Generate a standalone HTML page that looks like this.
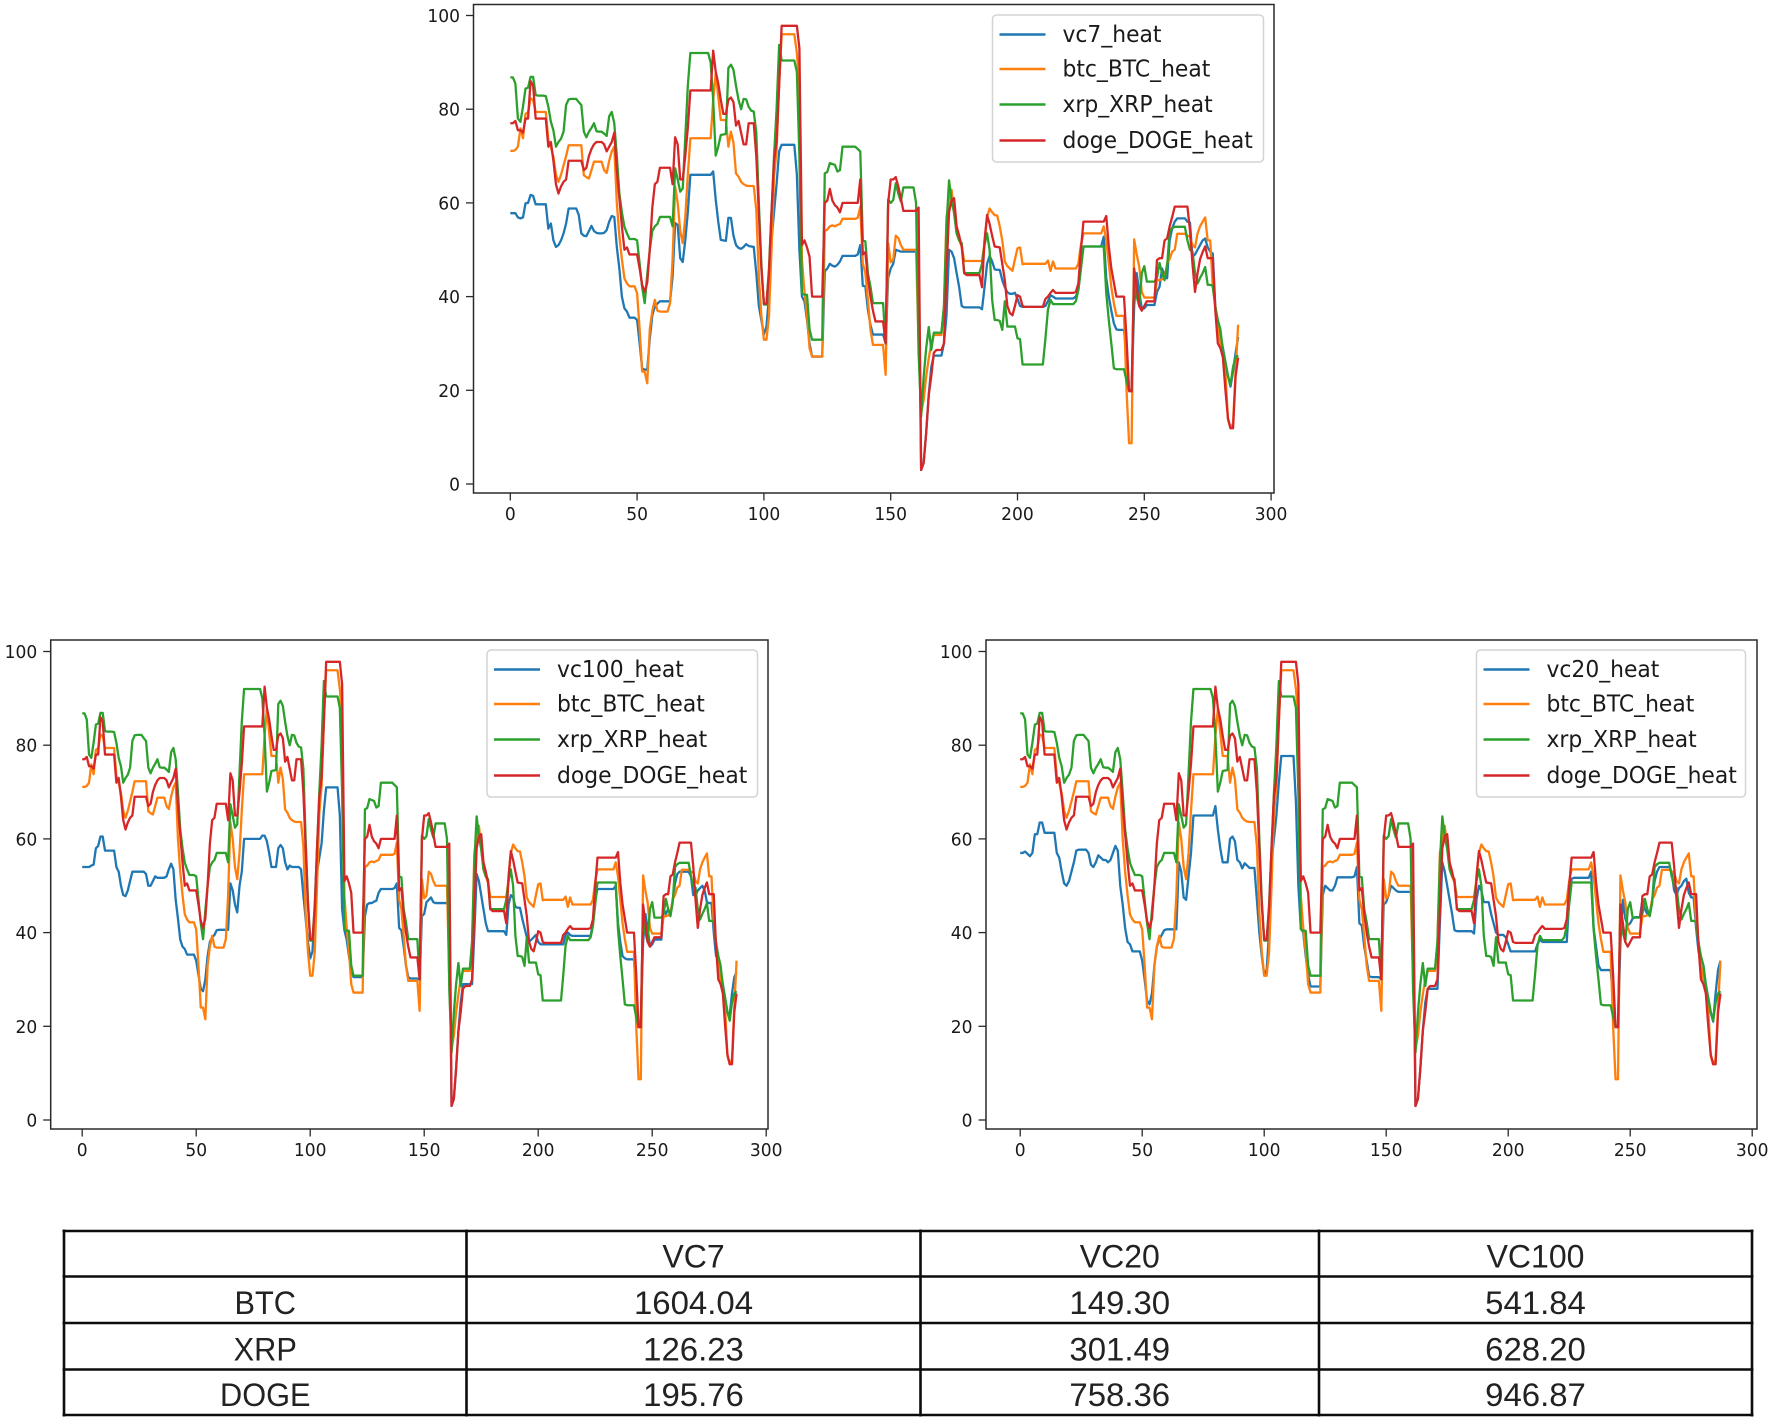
<!DOCTYPE html>
<html lang="en">
<head>
<meta charset="utf-8">
<title>VC heat comparison charts</title>
<style>
  html, body { margin: 0; padding: 0; background: #fff; }
  #stage { display: block; width: 1772px; height: 1420px; }
  text { font-family: "DejaVu Sans", sans-serif; fill: #1a1a1a; }
  .tbl text { font-family: "Liberation Sans", "Noto Sans CJK SC", sans-serif; fill: #222; }
</style>
</head>
<body>
<svg id="stage" xmlns="http://www.w3.org/2000/svg" width="1772" height="1420" viewBox="0 0 1772 1420">
  <rect x="0" y="0" width="1772" height="1420" fill="#ffffff"/>
</svg>
<script>
const xTicks = [0, 50, 100, 150, 200, 250, 300];
const yTicks = [0, 20, 40, 60, 80, 100];

const btc = [
71.1,71.1,71.3,72,75.9,73.8,79,79.4,82.3,82,
79.4,79.4,79.4,79.4,79.4,73.4,72,69.8,66,64.5,
66,68,70,72.3,72.3,72.3,72.3,72.3,72.3,65.9,
65.5,65.2,67,68.8,68.8,68.8,68.8,67,66.4,69,
71,72,60,53,48,43.9,42.8,42.2,42.2,42.2,
40.7,33,24,24,21.5,33,37,39.3,37,36.8,
36.8,36.8,36.8,38.6,48,63.5,60,54,51.4,57,
66,73.8,73.8,73.8,73.8,73.8,73.8,73.8,73.8,73.8,
82,87.7,82.7,77.7,77.7,77.7,72,75.2,72.8,66.3,
65.6,64.5,64,63.7,63.6,63.6,63.6,58.5,44.3,36,
30.8,30.8,35.8,50,65.6,71.3,85,96,96,96,
96,96,96,92,85,47.9,41,36,29,27.2,
27.2,27.2,27.2,27.2,54,54.3,55,55.2,55,55.3,
55.5,56.6,56.6,56.6,56.6,56.6,56.6,56.8,59.2,47.1,
45,39.3,33,29.7,29.7,29.7,29.7,29.7,23.3,51.4,
47.3,47.9,53,52.5,51,50,50,50,50,50,
50,30,15.1,18,23,26.8,30,31.8,31.8,31.8,
31.8,38,57,60,62.8,58,53.5,52,50.7,47.6,
47.6,47.6,47.6,47.6,47.6,47.6,47.6,51.4,57,58.8,
58,57.4,57.3,55,52,47.5,46.5,46,45.5,48,
50.3,50.5,46.9,47,47,47,47,47,47,47,
47,47,47.7,45.5,47.5,46,46,46,46,46,
46,46,46,46,47,51,53.5,53.5,53.5,53.5,
53.5,53.5,53.5,53.5,55,52,47,42,38.6,35.9,
35.9,35.9,35.9,20,8.7,8.7,52.2,49,46.4,41,
39.8,39.8,39.8,39.8,39.8,43.5,43.5,43.7,43.9,47.1,
48,49.6,50,53.4,53.4,53.4,53.4,53,52.8,51,
50.5,53.5,55,56,56.9,52,52,42,38,33,
30,28,23.6,13.7,11.9,13,24,34
];

const xrp = [
86.8,86.8,85.5,78,77.3,80.5,84.4,84.6,86.9,86.9,
83,82.9,82.9,82.9,82.8,80.5,77.3,75.5,72,73,
73.7,75.2,80.9,82.1,82.2,82.2,82.2,81.5,80.9,75.2,
74,75.2,76,77,75.3,75.2,75.2,74.8,74.3,78.5,
79.4,77,70,62,58,54.9,53.5,52.3,52.3,52.3,
52,47,42,38.6,44.7,50,54,55,55.5,57,
57,57,57,57,55,67.4,65,62.4,63.1,74,
85,92,92,92,92,92,92,92,92,90,
82,70.1,72,74.5,74.6,74.7,88.8,89.5,88.4,85,
82,80,82.2,82.1,80.5,79.7,79.5,75,60,47,
38.3,38.3,46,58,70,80,93.7,90.4,90.4,90.4,
90.4,90.4,90.4,88,70,40.7,40.4,40.4,33,30.8,
30.8,30.8,30.8,30.8,66.3,66.6,68.5,68.3,68.1,66.7,
67,72,72,72,72,72,72,71.5,71,52,
51.8,45,42.2,38.6,38.6,38.6,38.6,38.6,30,60.7,
60,60.6,64.2,62,60.3,63.3,63.3,63.3,63.3,63.3,
60,28,14.4,22.9,29,33.5,28.6,32.3,32.3,32.3,
32.3,38,55,64.8,60.6,57.8,53.5,52,51.4,45,
45,45,45,45,45,45,47,51,53.5,50,
39.3,35,35,34.8,32.9,39,33.6,33.6,33.6,33.6,
31.1,30.9,25.5,25.5,25.5,25.5,25.5,25.5,25.5,25.5,
25.5,31,37.2,39.3,38.4,38.4,38.4,38.4,38.4,38.4,
38.4,38.4,38.4,39,41.4,46,50.7,50.7,50.7,50.7,
50.7,50.7,50.7,50.7,50.7,40.7,35,30,24.7,24.5,
24.5,24.5,24.5,22,20,20,45,40,38,45,
46.5,43.2,43.2,43.2,43.2,44,47.2,45,43.5,46.4,
54,54.6,54.9,54.9,54.9,54.9,54.9,52,50,49.6,
45,42.8,44,45,46.3,42.5,42.5,42.3,37.9,35,
33,28.5,26,23,21.2,25,27,27.5
];

const doge = [
77,77,77.5,75.5,75.5,75,78,78,86,85,
78,78,78,78,78,72,73,69,64,62,
63.5,64.5,65,69,69,69,69,69,69,67,
67.5,70,71.5,72.5,73,73,73,72.5,71,72,
73,75,67,61,55,50,50.5,49,49,49,
49,46,42.5,41,43,50,59,64,64.5,67.5,
67.5,67.5,67.5,67.5,64,74,72.5,65,65,70,
76,84,84,84,84,84,84,84,84,84,
92.5,88,85.5,82,79,79,82,82.5,81.5,76.5,
77.5,75,72.5,72.5,77,77,77,70,58,46,
38.5,38.5,45,58,69,73,85,97.8,97.8,97.8,
97.8,97.8,97.8,97.8,93,51,52,50.5,48.5,40,
40,40,40,40,60,60.5,63,60.5,59.5,59,
58,60,60,60,60,60,60,60,65,49,
49.5,44,40,37,34.7,34.7,34.7,34.7,30,60,
65,65,65.5,63.5,61,58.3,58.3,58.3,58.3,58.3,
58.3,59,3,4.5,11,19,23,28,28.6,28.6,
28.6,30,45,58,60.5,61,55,53,50.7,45,
44.6,44.6,44.6,44.6,44.6,44.6,42,52,57.4,55.5,
53,50.7,50.6,50.5,47,43.5,38,36.5,36,38,
40.3,40,38,37.8,37.8,37.8,37.8,37.8,37.8,37.8,
37.8,39.5,40,40.8,41.4,40.8,40.8,40.8,40.8,40.8,
40.8,40.8,40.8,41,42.8,50,56,56,56,56,
56,56,56,56,56,57.2,50.7,46,43,40,
40,40,40,31,19.8,19.8,46,42,38,37,
38,39,39,39,39,47.8,48.2,48.2,52,52.4,
55,57,59.2,59.2,59.2,59.2,59.2,59.2,54.2,47,
41,45,48,49.5,50.7,48.2,48.2,48.2,37,30,
29,27,20,14,11.9,11.9,23,27
];

const vc7 = [
57.8,57.8,57.8,56.9,56.7,56.9,59.9,60,61.7,61.5,
59.7,59.7,59.7,59.7,59.7,54.5,55.6,52,50.6,51,
52,53.5,55.6,58.8,58.8,58.8,58.8,57.4,53.5,53,
52.9,54,55.1,54,53.6,53.5,53.5,53.6,54.2,56,
57.2,57,50.6,46,40,37.5,36.8,35.5,35.5,35.5,
35,30,24.7,24.4,24.4,31,36,37.9,38.5,39,
39,39,39,39,44.3,55.7,55.3,48.2,47.4,52,
58,66,66,66,66,66,66,66,66,66,
66.7,60.7,56,52.1,52,51.9,56.8,56.8,53,51,
50.4,50.2,50.6,51.2,50.8,50.7,50.6,45,38,35,
31.9,33.6,40,52,58,64,71,72.4,72.4,72.4,
72.4,72.4,72.4,66,50,40,39,35,30,27.2,
27.2,27.2,27.2,27.2,45.4,46,47,46.6,46.4,46.8,
47.5,48.7,48.7,48.7,48.7,48.7,48.7,49,51,42.3,
42.2,37.2,34,31.9,31.9,31.9,31.9,31.9,30,44,
46,47,50,49.8,49.6,49.6,49.6,49.6,49.6,49.6,
49.6,48,3,4.5,11,19,25,27.4,27.4,27.4,
27.4,30,36,50,49.6,48.2,45,42,38,37.7,
37.7,37.7,37.7,37.7,37.7,37.7,37.3,42,47,48.7,
47.5,45.8,45.7,45.7,43.5,42,40.9,40.6,40.6,40.8,
39.5,38,37.8,37.8,37.8,37.8,37.8,37.8,37.8,37.8,
37.8,38,39,40.3,40,39.6,39.6,39.6,39.6,39.6,
39.6,39.6,39.6,40,41.4,46,50.7,50.7,50.7,50.7,
50.7,50.7,50.7,50.7,52.8,44,40,37,34.3,33,
32.9,32.9,32.9,27,20,20,38,45,41,37.5,
37.5,38.2,38.2,38.2,38.2,41,42.1,46,44.5,43.9,
52,54.6,56,56.7,56.7,56.7,56.7,56,55.8,48.5,
49,50,51,52,52.4,50.5,49.6,49.2,37.9,33.6,
32,29,26,23,20.8,24,28,31.4
];

const vc100 = [
54,54,54,54,54.3,54.5,58,58.5,60.5,60.5,
57.5,57.5,57.5,57.5,57.5,54,53,50,48,47.8,
49,51,53,53,53,53,53,53,52.5,50,
50,51,52,51.7,51.7,51.7,51.7,52,53.5,54.7,
53.5,47,43,38.5,37,36.5,35.3,35.3,35.3,35.3,
34,31,28,27.5,30,35,38,39,39.5,40.5,
40.6,40.6,40.6,40.6,40.6,50.5,49,46,44.3,50,
53,60,60,60,60,60,60,60,60,60.7,
60.7,59.5,57,54,54,54,58,58.7,58,55,
53.5,54.3,54,54,54,54,53.5,48,43,38,
34.5,36,45,53,56,59,66,71,71,71,
71,71,71,65,45,40.5,38.5,35,32,30.5,
30.5,30.5,30.5,30.5,43.5,46,46.3,46.3,46.6,46.8,
48.5,49.3,49.3,49.3,49.3,49.3,49.3,49.5,50.5,41,
40.5,37,33,30.5,30.2,30.2,30.2,30.2,30,43.5,
44,46.5,47,47.5,46.5,46.3,46.3,46.3,46.3,46.3,
46.3,45,3,4.5,11,19,25,29,29,29,
29,29,40,52.5,51,48,45,42,40.3,40.3,
40.3,40.3,40.3,40.3,40.3,40.3,39.5,46,48,47.5,
45.5,45.3,45.3,43,41,39,38,38.5,39,39.5,
38,37.5,37.5,37.5,37.5,37.5,37.5,37.5,37.5,37.5,
37.5,37.5,39.5,40,39.5,39.3,39.3,39.3,39.3,39.3,
39.3,39.3,39.3,39.3,42,47,49.3,49.3,49.3,49.3,
49.3,49.3,49.3,49.3,50,42,38,35,34.5,34.3,
34.3,34.3,34.3,27,20,20,38,44,41,37,
37.5,38.5,38.5,38.5,38.5,45,44,45,44,47,
50.5,52.5,53,53,53,53,53,52,48,48,
49,49.5,50,49,46.5,46.3,46.3,40,35,34.5,
32,29,26,23,22.5,27,30.5,31.5
];

const vc20 = [
57,57,57.3,56.8,56.3,57,61,61,63.5,63.5,
61.3,61.3,61.3,61.3,61.3,57,56,53,50.5,50,
51,53,55,57.5,57.7,57.7,57.7,57.7,57,54.5,
54,55,56.5,56,55.5,55.5,55,55.5,57,58.5,
57.5,50,46,41,38,37.5,36,36,36,36,
34,30,25.5,24.7,27,33,37,38.5,39.5,40.5,
40.7,40.7,40.7,40.7,40.7,55,53,47.5,47,52,
57,65,65,65,65,65,65,65,65,65,
67,62,58,55,55,55,60,60.5,59.5,55.5,
55,53.7,54.8,54.3,53.8,53.8,53.8,47,40,35,
31,32,40,55,60,65,72,77.7,77.7,77.7,
77.7,77.7,77.7,68,50,41,40,35,31,28.5,
28.5,28.5,28.5,28.5,48,50,49.5,49,49,50,
51.8,51.8,51.8,51.8,51.8,51.8,51.8,52,54,42,
41.5,37,34,30.7,30.5,30.5,30.5,30.5,30,46,
46.5,48,50,49.5,49,48.7,48.7,48.7,48.7,48.7,
48.7,47,3,4.5,11,19,25,28,28,28,
28,28,42,55,53,50,47,44,40.5,40.3,
40.3,40.3,40.3,40.3,40.3,40.3,39.8,47,50,49,
46.5,46.5,46.5,44,42,40,39.5,39.5,39.5,39,
37.5,36,36,36,36,36,36,36,36,36,
36,36,37.5,38.5,38,38,38,38,38,38,
38,38,38,38,38,47,51.5,51.7,51.7,51.7,
51.7,51.7,51.7,51.7,53,41,37,33,32,32,
32,32,32,26,20,20,38,47,43,41.5,
42,43,43.3,43.3,43.3,47,45,44,44,47,
51,53,54,54,54,54,54,53,49,48,
49.5,50,51,51.5,48.5,47.5,47.5,41,36,34,
33,29,26,23,21,27,32,34
];

const tableColumns = ["", "VC7", "VC20", "VC100"];
const tableRows = ["BTC", "XRP", "DOGE"];
const tableValues = [
  ["1604.04", "149.30", "541.84"],
  ["126.23", "301.49", "628.20"],
  ["195.76", "758.36", "946.87"]
];

const SVG_NS = "http://www.w3.org/2000/svg";
const stage = document.getElementById("stage");

function make(tag, parent, attrs, text) {
  const el = document.createElementNS(SVG_NS, tag);
  for (const k in attrs) el.setAttribute(k, attrs[k]);
  if (text !== undefined) el.textContent = text;
  parent.appendChild(el);
  return el;
}

const AXIS = "#2a2a2a";
const COLORS = { vc: "#1f77b4", btc: "#ff7f0e", xrp: "#2ca02c", doge: "#d62728" };

function drawChart(cfg) {
  const xPos = v => cfg.x0 + v * cfg.kx;
  const yPos = v => cfg.y0 - v * cfg.ky;

  const g = make("g", stage, {});
  
  

  const series = [
    { label: cfg.vcLabel, values: cfg.vcValues, color: COLORS.vc },
    { label: "btc_BTC_heat", values: btc, color: COLORS.btc },
    { label: "xrp_XRP_heat", values: xrp, color: COLORS.xrp },
    { label: "doge_DOGE_heat", values: doge, color: COLORS.doge }
  ];

  series.forEach(s => {
    const d = s.values.map((v, i) => (i ? "L" : "M") + xPos(i).toFixed(2) + " " + yPos(v).toFixed(2)).join("");
    const line = make("path", g, { d: d, fill: "none", stroke: s.color, "stroke-width": 2.3, "stroke-linejoin": "round", "stroke-linecap": "butt" });
    
    
  });

  const frame = make("rect", g, { x: cfg.left, y: cfg.top, width: cfg.right - cfg.left, height: cfg.bottom - cfg.top, fill: "none", stroke: AXIS, "stroke-width": 1.5 });
  
  

  xTicks.forEach(t => {
    const px = xPos(t);
    const mark = make("line", g, { x1: px, x2: px, y1: cfg.bottom, y2: cfg.bottom + 7.5, stroke: AXIS, "stroke-width": 1.3 });
    
    
    const lab = make("text", g, { x: 0, y: 0, "text-anchor": "middle", "font-size": 18, transform: "translate(" + px + "," + (cfg.bottom + 27) + ") scale(0.95,1)" }, String(t));
    
    
  });

  yTicks.forEach(t => {
    const py = yPos(t);
    const mark = make("line", g, { x1: cfg.left - 7.5, x2: cfg.left, y1: py, y2: py, stroke: AXIS, "stroke-width": 1.3 });
    
    
    const lab = make("text", g, { x: 0, y: 0, "text-anchor": "end", "font-size": 18, transform: "translate(" + (cfg.left - 13.5) + "," + (py + 6.5) + ") scale(0.95,1)" }, String(t));
    
    
  });

  const legend = make("g", g, {});
  
  
  const box = make("rect", legend, { x: cfg.legX, y: cfg.legY, width: cfg.legW, height: 147, rx: 4, ry: 4, fill: "#ffffff", "fill-opacity": 0.85, stroke: "#d4d4d4", "stroke-width": 1.5 });
  
  
  const rowOffsets = [19.5, 54, 89.5, 125.5];
  series.forEach((s, i) => {
    const ry = cfg.legY + rowOffsets[i];
    const swatch = make("line", legend, { x1: cfg.legX + 7, x2: cfg.legX + 53, y1: ry, y2: ry, stroke: s.color, "stroke-width": 2.4 });
    
    
    const txt = make("text", legend, { x: 0, y: 0, "font-size": 23, transform: "translate(" + (cfg.legX + 70) + "," + (ry + 7.5) + ") scale(0.95,1)" }, s.label);
    
    
  });
}

drawChart({ name: "vc7-heat-chart", vcLabel: "vc7_heat", vcValues: vc7,
  left: 473.5, right: 1274, top: 4.5, bottom: 493, x0: 510.3, kx: 2.536, y0: 484, ky: 4.685,
  legX: 992.5, legY: 15, legW: 271 });
drawChart({ name: "vc100-heat-chart", vcLabel: "vc100_heat", vcValues: vc100,
  left: 50.7, right: 768, top: 640, bottom: 1129, x0: 82.2, kx: 2.28, y0: 1120, ky: 4.685,
  legX: 487, legY: 650, legW: 270.5 });
drawChart({ name: "vc20-heat-chart", vcLabel: "vc20_heat", vcValues: vc20,
  left: 986, right: 1757, top: 640, bottom: 1129, x0: 1020.2, kx: 2.44, y0: 1120, ky: 4.685,
  legX: 1476.5, legY: 650, legW: 269 });

/* results table */
const colEdges = [64, 466.5, 920.5, 1319, 1752];
const rowEdges = [1231, 1276.5, 1323, 1369.5, 1415];
const table = make("g", stage, { class: "tbl" });



colEdges.forEach(cx => {
  const rule = make("line", table, { x1: cx, x2: cx, y1: rowEdges[0] - 1.5, y2: rowEdges[4] + 1.5, stroke: "#0c0c0c", "stroke-width": 2.6 });
  
  
});
rowEdges.forEach(ry => {
  const rule = make("line", table, { x1: colEdges[0] - 1.5, x2: colEdges[4] + 1.5, y1: ry, y2: ry, stroke: "#0c0c0c", "stroke-width": 2.6 });
  
  
});

function cellText(col, row, str, sx) {
  const cx = (colEdges[col] + colEdges[col + 1]) / 2;
  const by = rowEdges[row + 1] - 9;
  const el = make("text", table, { x: 0, y: 0, "text-anchor": "middle", "font-size": 32, transform: "translate(" + cx + "," + by + ") scale(" + sx + ",1)" }, str);
  return el;
}

tableColumns.forEach((c, i) => {
  if (!c) return;
  const el = cellText(i, 0, c, 1);
  
  
});
tableRows.forEach((r, i) => {
  const el = cellText(0, i + 1, r, 0.96);
  
  
  tableValues[i].forEach((v, j) => {
    const cell = cellText(j + 1, i + 1, v, 1.03);
    
    
  });
});
</script>
</body>
</html>
